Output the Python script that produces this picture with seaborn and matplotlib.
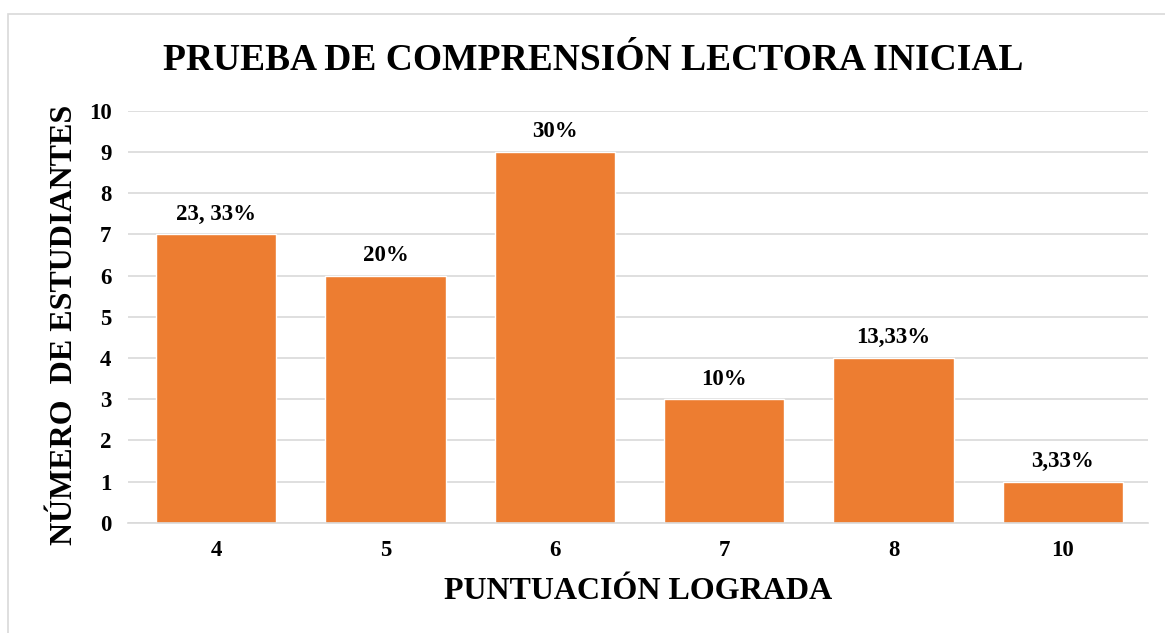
import matplotlib
import matplotlib.pyplot as plt
import pandas as pd
import seaborn as sns
from matplotlib.patches import Rectangle

matplotlib.use('Agg')

# datos del gráfico
puntuacion = ['4', '5', '6', '7', '8', '10']
estudiantes = [7, 6, 9, 3, 4, 1]
porcentajes = ['23, 33%', '20%', '30%', '10%', '13,33%', '3,33%']

data = pd.DataFrame({'puntuacion': puntuacion, 'estudiantes': estudiantes})

sns.set_theme(style="whitegrid")
plt.rcParams['font.family'] = ['Liberation Serif', 'DejaVu Serif']
plt.rcParams['font.weight'] = 'bold'
plt.rcParams['text.color'] = 'black'
plt.rcParams['axes.labelcolor'] = 'black'
plt.rcParams['xtick.color'] = 'black'
plt.rcParams['ytick.color'] = 'black'

fig = plt.figure(figsize=(11.65, 6.33), dpi=100)
ax = fig.add_axes([0.110, 0.174, 0.875, 0.651])

sns.barplot(x='puntuacion', y='estudiantes', data=data, color='#ED7D31',
            saturation=1, width=0.71, ax=ax)

# etiquetas de porcentaje encima de cada barra
for bar, txt in zip(ax.patches, porcentajes):
    ax.annotate(txt, (bar.get_x() + bar.get_width() / 2, bar.get_height()),
                xytext=(0, 7), textcoords='offset points',
                ha='center', va='bottom', fontsize=16.5, fontweight='bold')

ax.set_ylim(0, 10)
ax.set_xlim(-0.52, 5.5)
ax.set_yticks(range(0, 11))
ax.grid(axis='y', color='#D9D9D9', linewidth=1.2)
ax.grid(axis='x', visible=False)
for side in ['top', 'right', 'left']:
    ax.spines[side].set_visible(False)
ax.spines['bottom'].set_color('#D9D9D9')
ax.spines['bottom'].set_linewidth(1.2)
ax.tick_params(axis='both', length=0, labelsize=16.5)
ax.tick_params(axis='y', pad=12)
ax.tick_params(axis='x', pad=12)
for lab in ax.get_xticklabels() + ax.get_yticklabels():
    lab.set_fontweight('bold')

ax.set_xlabel('PUNTUACIÓN LOGRADA', fontsize=23, fontweight='bold', labelpad=12)
ax.set_ylabel('NÚMERO  DE ESTUDIANTES', fontsize=23, fontweight='bold', labelpad=6)
ax.yaxis.set_label_coords(-0.048, 0.48)

fig.text(0.509, 0.904, 'PRUEBA DE COMPRENSIÓN LECTORA INICIAL', ha='center', va='center',
         fontsize=27, fontweight='bold')

# marco del gráfico
fig.patches.append(Rectangle((8 / 1165, -0.01), 1.1, 1 - 14 / 633 + 0.01,
                             transform=fig.transFigure, fill=False,
                             edgecolor='#D9D9D9', linewidth=1.2))

plt.savefig('out.png', dpi=100)
